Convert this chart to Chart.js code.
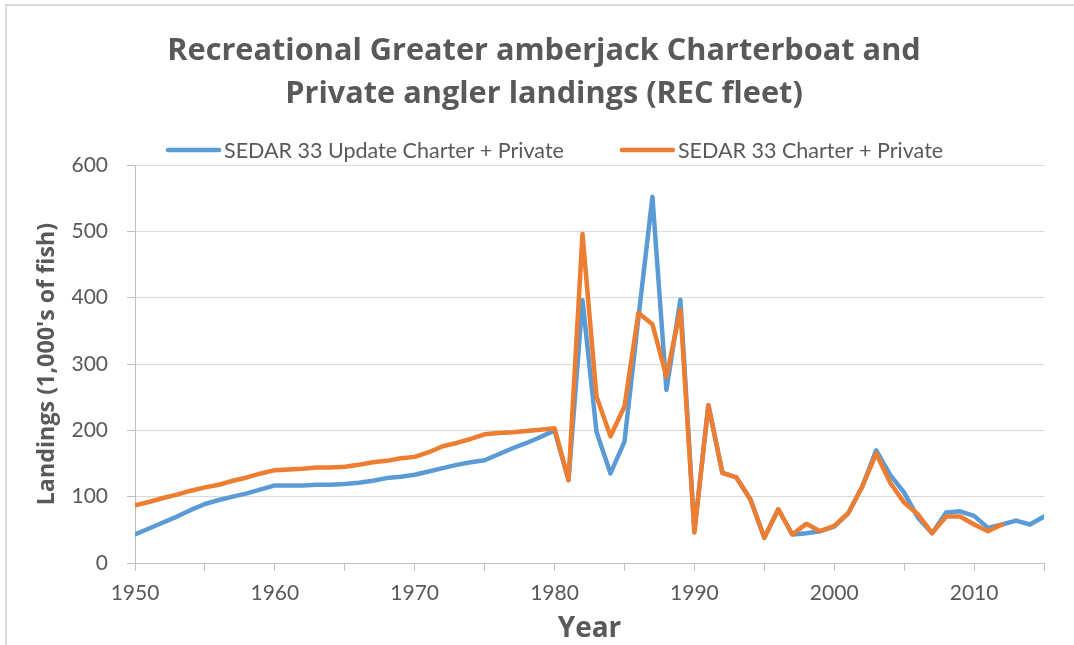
<!DOCTYPE html>
<html><head><meta charset="utf-8">
<script src="https://cdn.jsdelivr.net/npm/chart.js@4/dist/chart.umd.min.js"></script>
<style>html,body{margin:0;padding:0;background:#fff}#wrap{width:1074px;height:645px;position:relative}</style>
</head><body><div id="wrap"><canvas id="c" width="1074" height="645"></canvas></div>
<script>
const years = [1950,1951,1952,1953,1954,1955,1956,1957,1958,1959,
  1960,1961,1962,1963,1964,1965,1966,1967,1968,1969,
  1970,1971,1972,1973,1974,1975,1976,1977,1978,1979,
  1980,1981,1982,1983,1984,1985,1986,1987,1988,1989,
  1990,1991,1992,1993,1994,1995,1996,1997,1998,1999,
  2000,2001,2002,2003,2004,2005,2006,2007,2008,2009,
  2010,2011,2012,2013,2014,2015];
const updateSeries = [43,52,61,70,80,89,95,100,105,111,
  117,117,117,118,118,119,121,124,128,130,
  133,138,143,148,152,155,164,173,181,190,
  200,125,396,198,135,183,370,552,261,397,
  48,238,136,129,96,38,81,43,45,48,
  55,75,115,170,133,106,68,45,76,78,
  71,53,58,64,58,70];
const originalSeries = [87,92,98,103,109,114,118,124,129,135,
  140,141,142,144,144,145,148,152,154,158,
  160,167,176,181,187,194,196,197,199,201,
  203,125,496,251,191,236,377,360,281,382,
  46,238,136,129,96,38,81,43,59,48,
  56,75,115,165,121,91,73,45,70,70,
  58,48,58];
const seriesNames = ['SEDAR 33 Update Charter + Private','SEDAR 33 Charter + Private'];
const seriesColors = ['#5B9BD5','#ED7D31'];
const xTickLabels = ['1950','1960','1970','1980','1990','2000','2010'];
const titleLines = ['Recreational Greater amberjack Charterboat and','Private angler landings (REC fleet)'];
const yAxisTitle = "Landings (1,000's of fish)";
const xAxisTitle = 'Year';

const TXT = '#595959';
const FONT = 'Lato';
const BOLD_FONT = '"Open Sans"';

const framePlugin = {
  id: 'frame',
  beforeDraw(chart) {
    const ctx = chart.ctx;
    ctx.save();
    ctx.fillStyle = '#fff';
    ctx.fillRect(0, 0, chart.width, chart.height);
    ctx.strokeStyle = '#d9d9d9';
    ctx.lineWidth = 2;
    ctx.strokeRect(6, 5, chart.width + 10, chart.height + 10);
    ctx.restore();
  }
};

const legendPlugin = {
  id: 'customLegend',
  afterDraw(chart, args, opts) {
    const ctx = chart.ctx;
    ctx.save();
    ctx.font = `${opts.fontSize}px ${FONT}`;
    ctx.textBaseline = 'middle';
    let x = opts.startX;
    chart.data.datasets.forEach((ds) => {
      ctx.strokeStyle = ds.borderColor;
      ctx.lineWidth = 4.5;
      ctx.lineCap = 'round';
      ctx.beginPath();
      ctx.moveTo(x + 2, opts.y);
      ctx.lineTo(x + opts.lineLen - 2, opts.y);
      ctx.stroke();
      x += opts.lineLen + opts.textGap;
      ctx.fillStyle = TXT;
      ctx.fillText(ds.label, x, opts.y + 1);
      x += ctx.measureText(ds.label).width + opts.itemGap;
    });
    ctx.restore();
  }
};

new Chart(document.getElementById('c'), {
  type: 'line',
  data: {
    datasets: [
      {
        label: seriesNames[0],
        data: updateSeries.map((v, i) => ({x: years[i], y: v})),
        borderColor: seriesColors[0],
        backgroundColor: seriesColors[0],
        borderWidth: 4.5,
        borderJoinStyle: 'round',
        borderCapStyle: 'round',
        pointRadius: 0,
        tension: 0,
        order: 1
      },
      {
        label: seriesNames[1],
        data: originalSeries.map((v, i) => ({x: years[i], y: v})),
        borderColor: seriesColors[1],
        backgroundColor: seriesColors[1],
        borderWidth: 4.5,
        borderJoinStyle: 'round',
        borderCapStyle: 'round',
        pointRadius: 0,
        tension: 0,
        order: 0
      }
    ]
  },
  options: {
    responsive: false,
    animation: false,
    layout: {padding: {left: 44, right: 30, top: 0, bottom: 0}},
    plugins: {
      legend: {display: false},
      tooltip: {enabled: false},
      title: {
        display: true,
        text: titleLines,
        color: TXT,
        font: {family: BOLD_FONT, size: 30.7, weight: 'bold', lineHeight: 1.39},
        padding: {top: 30, bottom: 49.7}
      },
      customLegend: {startX: 166, y: 150, lineLen: 55, textGap: 3, itemGap: 56, fontSize: 21.5}
    },
    scales: {
      x: {
        type: 'linear',
        min: 1950,
        max: 2015,
        afterFit(scale) { scale.height = 82; },
        ticks: {
          stepSize: 5,
          autoSkip: false,
          maxRotation: 0,
          padding: 10,
          color: TXT,
          font: {family: FONT, size: 21},
          callback: (v) => xTickLabels.includes(String(v)) ? String(v) : ''
        },
        grid: {drawOnChartArea: false, drawTicks: true, tickLength: 8, tickColor: '#bfbfbf', tickWidth: 1},
        border: {color: '#bfbfbf', width: 1},
        title: {
          display: true,
          text: xAxisTitle,
          color: TXT,
          font: {family: BOLD_FONT, size: 28, weight: 'bold'},
          padding: {top: 0, bottom: -1}
        }
      },
      y: {
        min: 0,
        max: 600,
        afterFit(scale) { scale.width = 91; },
        ticks: {
          stepSize: 100,
          padding: 19,
          color: TXT,
          font: {family: FONT, size: 21}
        },
        grid: {color: '#d9d9d9', lineWidth: 1, tickLength: 8, tickColor: '#bfbfbf'},
        border: {color: '#bfbfbf', width: 1},
        title: {
          display: true,
          text: yAxisTitle,
          color: TXT,
          font: {family: BOLD_FONT, size: 23.3, weight: 'bold'},
          padding: {top: -11, bottom: 0}
        }
      }
    }
  },
  plugins: [framePlugin, legendPlugin]
});
</script>
</body></html>
